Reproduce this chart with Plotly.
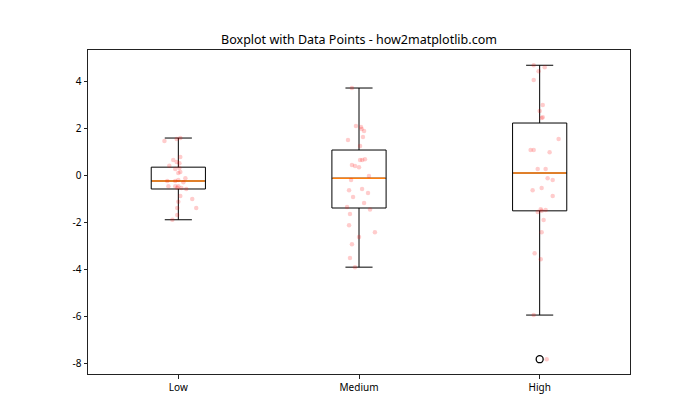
import plotly.graph_objects as go

categories = ["Low", "Medium", "High"]
positions = [1, 2, 3]

# box statistics
q1 = [-0.58, -1.39, -1.51]
median = [-0.24, -0.12, 0.10]
q3 = [0.35, 1.08, 2.23]
lower_whisker = [-1.89, -3.91, -5.95]
upper_whisker = [1.59, 3.72, 4.69]
outlier_cat = [3]
outlier_val = [-7.83]

# jittered data points (x position, value)
low_x = [1.011, 0.991, 0.923, 1.011, 0.972, 0.991, 1.006, 0.950, 1.006, 0.983,
         1.011, 1.000, 1.039, 0.939, 0.983, 1.000, 1.028, 0.945, 0.983, 1.000,
         0.994, 1.017, 1.044, 1.011, 1.077, 1.000, 0.994, 1.099, 0.994, 0.967]
low_y = [1.59, 1.55, 1.46, 0.78, 0.65, 0.57, 0.52, 0.41, 0.31, 0.27,
         0.14, 0.10, -0.12, -0.24, -0.24, -0.20, -0.29, -0.46, -0.46, -0.46,
         -0.53, -0.54, -0.58, -0.88, -1.01, -1.12, -1.39, -1.39, -1.69, -1.89]

medium_x = [1.961, 1.983, 2.011, 2.015, 2.028, 2.022, 1.939, 2.006, 2.006, 2.018,
            2.033, 1.961, 1.978, 2.000, 2.055, 1.956, 1.945, 2.017, 2.050, 1.967,
            2.028, 1.934, 2.061, 1.950, 1.945, 2.088, 2.000, 1.961, 1.950, 1.978]
medium_y = [3.72, 2.10, 2.06, 1.97, 1.89, 1.63, 1.51, 1.25, 0.65, 0.65,
            0.69, 0.44, 0.40, 0.35, -0.03, -0.20, -0.63, -0.58, -0.75, -0.92,
            -1.18, -1.35, -1.45, -1.65, -2.12, -2.42, -2.63, -2.93, -3.52, -3.91]

high_x = [2.967, 3.028, 2.994, 2.967, 3.017, 3.000, 3.017, 3.011, 3.105, 2.950,
          2.967, 3.055, 2.989, 3.033, 3.044, 3.072, 2.961, 3.011, 3.072, 3.006,
          2.989, 3.011, 3.033, 3.022, 3.011, 2.972, 3.006, 2.967, 3.039]
high_y = [4.69, 4.61, 4.44, 4.06, 3.00, 2.74, 2.48, 2.44, 1.55, 1.08,
          1.08, 0.99, 0.27, 0.27, -0.12, -0.20, -0.63, -0.54, -0.88, -1.44,
          -1.56, -1.51, -1.48, -1.90, -2.42, -3.32, -3.57, -5.95, -7.83]

ytick_vals = [-8, -6, -4, -2, 0, 2, 4]
ytick_text = ["-8", "-6", "-4", "-2", "0", "2", "4"]

box_width = 0.3
font = "Noto Sans"

fig = go.Figure()

fig.add_trace(go.Box(
    x=positions, q1=q1, median=median, q3=q3,
    lowerfence=lower_whisker, upperfence=upper_whisker,
    width=box_width, whiskerwidth=0.5, boxpoints=False,
    fillcolor="rgba(0,0,0,0)", line=dict(color="black", width=1),
    showlegend=False, hoverinfo="skip",
))

# median lines in orange
for p, m in zip(positions, median):
    fig.add_trace(go.Scatter(
        x=[p - box_width / 2 + 0.004, p + box_width / 2 - 0.004], y=[m, m], mode="lines",
        line=dict(color="#ff7f0e", width=1.6), showlegend=False, hoverinfo="skip",
    ))

# outliers
fig.add_trace(go.Scatter(
    x=outlier_cat, y=outlier_val, mode="markers",
    marker=dict(symbol="circle-open", size=7, color="black", line=dict(width=1.3)),
    showlegend=False,
))

for xs, ys in [(low_x, low_y), (medium_x, medium_y), (high_x, high_y)]:
    fig.add_trace(go.Scatter(
        x=xs, y=ys, mode="markers",
        marker=dict(size=4.5, color="rgba(255,0,0,0.2)", line=dict(width=0)),
        showlegend=False,
    ))

fig.update_layout(
    width=700, height=420,
    margin=dict(l=88, r=70, t=50, b=46),
    plot_bgcolor="white", paper_bgcolor="white",
    font=dict(family=font, size=10, color="black"),
    title=dict(text="Boxplot with Data Points - how2matplotlib.com",
               x=(88 + 630) / 2 / 700, xanchor="center",
               y=1 - 40 / 420, yanchor="middle", yref="container",
               font=dict(family=font, size=12.5, color="black")),
)
fig.update_xaxes(range=[0.5, 3.5], tickvals=positions, ticktext=categories,
                 showline=True, mirror=True, linecolor="#222", linewidth=1,
                 ticks="outside", ticklen=3.5, tickcolor="#222",
                 showgrid=False, zeroline=False)
fig.update_yaxes(range=[-8.46, 5.34], tickvals=ytick_vals, ticktext=ytick_text,
                 showline=True, mirror=True, linecolor="#222", linewidth=1,
                 ticks="outside", ticklen=3.5, tickcolor="#222",
                 showgrid=False, zeroline=False)

fig.write_html("out.html")
